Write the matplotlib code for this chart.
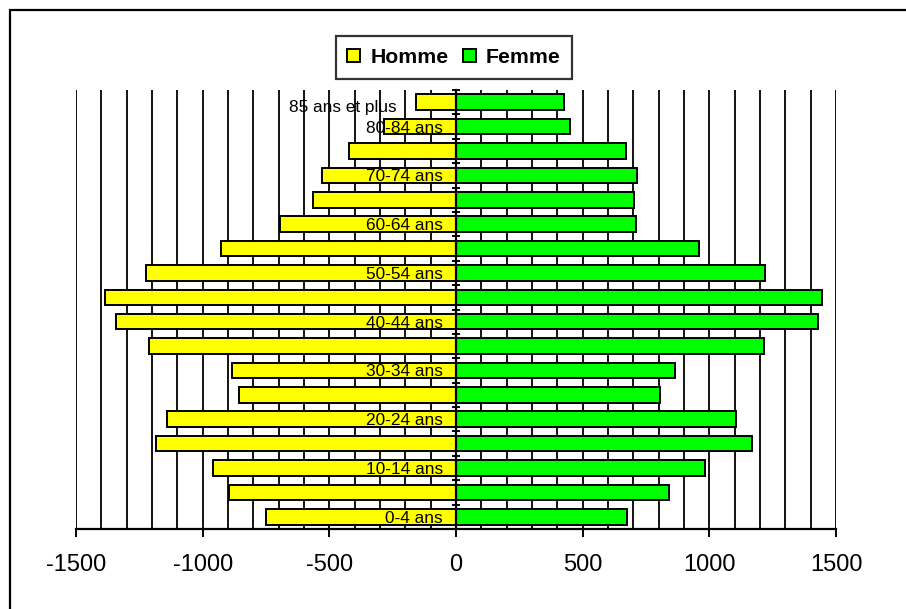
import numpy as np
import matplotlib
matplotlib.use("Agg")
import matplotlib.pyplot as plt
from matplotlib.patches import Rectangle
from matplotlib.ticker import FixedLocator, MultipleLocator

plt.rcParams['font.family'] = ['Liberation Sans', 'DejaVu Sans']

age_groups = ['0-4 ans', '5-9 ans', '10-14 ans', '15-19 ans', '20-24 ans', '25-29 ans',
              '30-34 ans', '35-39 ans', '40-44 ans', '45-49 ans', '50-54 ans', '55-59 ans',
              '60-64 ans', '65-69 ans', '70-74 ans', '75-79 ans', '80-84 ans', '85 ans et plus']
homme = [-751, -895, -958, -1184, -1142, -855, -883, -1211, -1343, -1386, -1225, -929,
         -695, -563, -530, -421, -283, -159]
femme = [674, 840, 984, 1170, 1104, 805, 864, 1215, 1430, 1443, 1219, 959,
         710, 704, 716, 670, 450, 428]
xticks = [-1500, -1000, -500, 0, 500, 1000, 1500]

fig = plt.figure(figsize=(9.06, 6.09), dpi=100)
ax = fig.add_axes([76/906, 1-529/609, 760/906, 439/609])

y = np.arange(len(age_groups))
ax.barh(y, homme, height=0.64, color='#FFFF00', edgecolor='black', linewidth=1.4,
        label='Homme', zorder=2)
ax.barh(y, femme, height=0.64, color='#00FF00', edgecolor='black', linewidth=1.4,
        label='Femme', zorder=2)

ax.set_xlim(-1500, 1500)
ax.set_ylim(-0.5, len(age_groups) - 0.5)

# x axis
ax.xaxis.set_major_locator(FixedLocator(xticks))
ax.xaxis.set_minor_locator(MultipleLocator(100))
ax.set_xticklabels([str(v) for v in xticks])
ax.tick_params(axis='x', which='major', direction='out', length=5.8, width=1.4,
               labelsize=17, pad=12.5, colors='black')
ax.tick_params(axis='x', which='minor', length=0)
ax.grid(axis='x', which='both', color='black', linewidth=1.3)
ax.xaxis.set_zorder(0.5)

# y axis at x=0
ax.spines['left'].set_position(('data', 0))
ax.spines['left'].set_linewidth(1.6)
ax.spines['bottom'].set_linewidth(1.6)
ax.spines['top'].set_visible(False)
ax.spines['right'].set_visible(False)
ax.set_yticks(y)
ax.set_yticklabels([lab if i % 2 == 0 and i < len(age_groups) - 1 else ''
                    for i, lab in enumerate(age_groups)])
ax.yaxis.set_minor_locator(FixedLocator(np.arange(-0.5, len(age_groups), 1.0)))
ax.tick_params(axis='y', which='major', length=0, labelsize=12.4, pad=9.4)
ax.tick_params(axis='y', which='minor', direction='inout', length=6, width=1.4)
ax.yaxis.set_zorder(3)

ax.annotate(age_groups[-1], xy=(0, y[-1]), xytext=(-59, -5), textcoords='offset pixels',
            ha='right', va='center', fontsize=12.4, zorder=4)

leg = ax.legend(loc='center', bbox_to_anchor=(454/906, 1-57.5/609),
                bbox_transform=fig.transFigure, ncol=2, frameon=True, fancybox=False,
                prop={'weight': 'bold', 'size': 15.3}, handlelength=0.62, handleheight=0.62,
                handletextpad=0.47, columnspacing=0.67, borderpad=0.55, borderaxespad=0)
leg.get_frame().set_edgecolor('black')
leg.get_frame().set_linewidth(1.6)

# outer frame
fig.patches.append(Rectangle((10/906, -0.1), 1.2, 1.1 - 10/609 , transform=fig.transFigure,
                             fill=False, edgecolor='black', linewidth=1.6))

fig.savefig('out.png', dpi=100)
